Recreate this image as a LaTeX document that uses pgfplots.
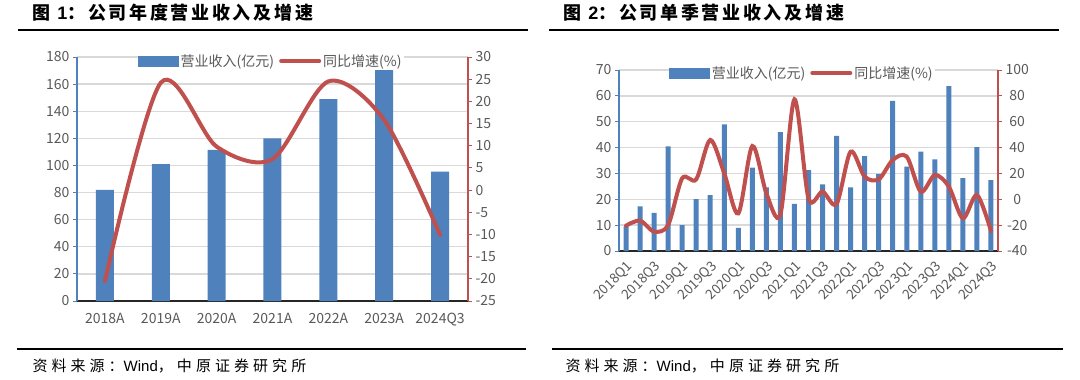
\documentclass[border=0pt]{standalone}
\usepackage{pgfplots}
\pgfplotsset{compat=1.18}
\usepackage{fontspec}
\setmainfont{Noto Sans CJK SC}
\newfontfamily\latinfont{Liberation Sans}
\definecolor{barblue}{HTML}{4F81BD}
\definecolor{linered}{HTML}{C0504D}
\definecolor{tickgray}{HTML}{595959}
\definecolor{gridgray}{HTML}{D9D9D9}
\definecolor{xaxisc}{HTML}{262626}
\pgfplotsset{
  common/.style={
    scale only axis,
    /pgf/number format/assume math mode=true,
    tick label style={font=\fontsize{14}{16}\selectfont, text=tickgray},
    tick align=outside,
    major tick length=4pt,
  },
  leftax/.style={common,
    axis x line*=bottom, axis y line*=left,
    y axis line style={barblue, line width=1.2pt},
    x axis line style={xaxisc, line width=2pt},
    ytick style={barblue, line width=1pt},
    xtick style={draw=none},
    ymajorgrids, grid style={gridgray, line width=1.3pt},
  },
  rightax/.style={common,
    axis y line*=right, axis x line=none, xtick=\empty,
    y axis line style={linered, line width=1.2pt},
    ytick style={linered, line width=1pt},
    legend columns=2,
    legend style={draw=none, fill=white, inner sep=0pt,
      font=\fontsize{14}{16}\selectfont, text=tickgray,
      /tikz/every even column/.append style={column sep=3pt},
      nodes={inner sep=2pt}},
  },
}
\begin{document}
\begin{tikzpicture}
\path (0pt,0pt) rectangle (1080pt,-380pt);
% titles and rules
\node[anchor=west, font=\fontsize{18}{20}\selectfont\bfseries\addfontfeature{LetterSpace=15}] at (29pt,-13pt) {图 {\latinfont\bfseries 1}：公司年度营业收入及增速};
\node[anchor=west, font=\fontsize{18}{20}\selectfont\bfseries\addfontfeature{LetterSpace=15}] at (560pt,-13pt) {图 {\latinfont\bfseries 2}：公司单季营业收入及增速};
\draw[line width=2.5pt] (18pt,-30pt) -- (528pt,-30pt);
\draw[line width=2.5pt] (549pt,-30pt) -- (1059pt,-30pt);
\draw[line width=2.5pt] (17pt,-349pt) -- (526pt,-349pt);
\draw[line width=2.5pt] (552pt,-349pt) -- (1063pt,-349pt);
\node[anchor=west, font=\fontsize{15}{17}\selectfont\addfontfeature{LetterSpace=27}] at (29pt,-366pt) {资料来源：{\latinfont Wind}，中原证券研究所};
\node[anchor=west, font=\fontsize{15}{17}\selectfont\addfontfeature{LetterSpace=27}] at (562pt,-366pt) {资料来源：{\latinfont Wind}，中原证券研究所};

% ---------- Panel 1 ----------
\begin{axis}[leftax, at={(77pt,-301pt)}, anchor=south west,
  width=391pt, height=244pt,
  xmin=-0.5, xmax=6.5, ymin=0, ymax=180, ytick={0,20,...,180},
  xtick={0,...,6}, xticklabels={2018A,2019A,2020A,2021A,2022A,2023A,2024Q3},
  xticklabel style={yshift=-5pt}]
\addplot[ybar, bar width=18pt, fill=barblue, draw=none] coordinates {
(0,82) (1,101) (2,111.5) (3,120) (4,149) (5,170.5) (6,95.5)};
\end{axis}
\begin{axis}[rightax, at={(77pt,-301pt)}, anchor=south west,
  width=391pt, height=244pt,
  xmin=-0.5, xmax=6.5, ymin=-25, ymax=30, ytick={-25,-20,...,30},
  legend style={at={(0.496,0.9836)}, anchor=center}]
\addlegendimage{legend image code/.code={\fill[barblue] (0pt,-5pt) rectangle (40pt,5pt);}}
\addlegendentry{营业收入(亿元)}
\addplot[linered, line width=4pt, smooth, line cap=round,
  legend image code/.code={\draw[linered, line width=4pt, line cap=round] (2pt,0pt)--(40pt,0pt);}] coordinates {
(0,-20.5) (1,24.2) (2,9.8) (3,7.0) (4,24.5) (5,15.8) (6,-10.1)};
\addlegendentry{同比增速(\%)}
\end{axis}

% ---------- Panel 2 ----------
\begin{axis}[leftax, at={(619pt,-251pt)}, anchor=south west,
  width=379pt, height=181pt,
  xmin=-0.5, xmax=26.5, ymin=0, ymax=70, ytick={0,10,...,70},
  xtick={0,2,...,26},
  xticklabels={2018Q1,2018Q3,2019Q1,2019Q3,2020Q1,2020Q3,2021Q1,2021Q3,2022Q1,2022Q3,2023Q1,2023Q3,2024Q1,2024Q3},
  xticklabel style={rotate=45, anchor=north east, font=\fontsize{13.5}{15}\selectfont}]
\addplot[ybar, bar width=5pt, fill=barblue, draw=none] coordinates {
(0,9.5) (1,17.3) (2,14.7) (3,40.5) (4,10.0) (5,20.1) (6,21.6) (7,49.0)
(8,8.9) (9,32.2) (10,24.6) (11,46.0) (12,18.2) (13,31.3) (14,25.8) (15,44.5)
(16,24.6) (17,36.7) (18,29.8) (19,58.1) (20,32.6) (21,38.4) (22,35.4) (23,63.8)
(24,28.2) (25,40.2) (26,27.4)};
\end{axis}
\begin{axis}[rightax, at={(619pt,-251pt)}, anchor=south west,
  width=379pt, height=181pt,
  xmin=-0.5, xmax=26.5, ymin=-40, ymax=100, ytick={-40,-20,...,100},
  yticklabel style={text width=30pt, align=center, inner sep=0pt},
  legend style={at={(0.483,0.983)}, anchor=center}]
\addlegendimage{legend image code/.code={\fill[barblue] (0pt,-5pt) rectangle (40pt,5pt);}}
\addlegendentry{营业收入(亿元)}
\addplot[linered, line width=4pt, smooth, line cap=round,
  legend image code/.code={\draw[linered, line width=4pt, line cap=round] (2pt,0pt)--(40pt,0pt);}] coordinates {
(0,-20.4) (1,-16.5) (2,-25) (3,-19.9) (4,16.2) (5,15.4) (6,45.9) (7,20)
(8,-10.9) (9,41.2) (10,4.6) (11,-11.6) (12,77.3) (13,0.7) (14,5.9) (15,-3.6)
(16,36.8) (17,17.5) (18,15.4) (19,30.4) (20,33) (21,5.9) (22,18.8) (23,9.8)
(24,-14.7) (25,3.3) (26,-24.5)};
\addlegendentry{同比增速(\%)}
\end{axis}
\end{tikzpicture}
\end{document}
